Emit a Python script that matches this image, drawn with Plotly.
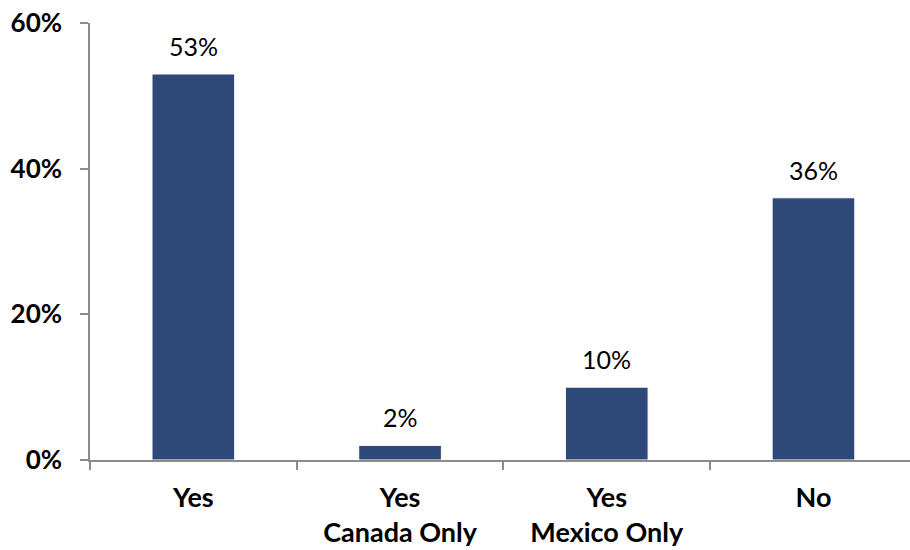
import plotly.graph_objects as go

categories = ["Yes", "Yes<br>Canada Only", "Yes<br>Mexico Only", "No"]
values = [53, 2, 10, 36]
labels = ["53%", "2%", "10%", "36%"]
y_ticks = [0, 20, 40, 60]
y_tick_labels = ["0%", "20%", "40%", "60%"]

BAR = "#2E4877"
AXIS = "#8C8C8C"
FONT = "Lato"

fig = go.Figure()
fig.add_trace(go.Bar(
    x=categories, y=values,
    marker=dict(color=BAR, line=dict(color="#FFFFFF", width=1)),
    width=0.4,
    hoverinfo="skip",
))

for c, v, t in zip(categories, values, labels):
    fig.add_annotation(
        x=c, y=v, text=t, showarrow=False,
        yanchor="bottom", yshift=11,
        font=dict(family=FONT, size=25, color="#000000"),
    )

fig.update_layout(
    width=910, height=550,
    margin=dict(l=90, r=0, t=23, b=90),
    paper_bgcolor="white", plot_bgcolor="white",
    showlegend=False,
    font=dict(family=FONT, color="#000000"),
)
fig.update_xaxes(
    range=[-0.5, 3.467],
    showline=True, linecolor=AXIS, linewidth=1.5,
    ticks="outside", tickson="boundaries", ticklen=8, tickcolor=AXIS, tickwidth=1.5,
    tickfont=dict(family=FONT, size=27, color="#000000", weight="bold"),
    showgrid=False, zeroline=False,
    ticklabelstandoff=13,
)
fig.update_yaxes(
    range=[0, 60],
    tickvals=y_ticks, ticktext=y_tick_labels,
    showline=True, linecolor=AXIS, linewidth=1.5,
    ticks="outside", ticklen=8, tickcolor=AXIS, tickwidth=1.5,
    tickfont=dict(family=FONT, size=26, color="#000000", weight="bold"),
    showgrid=False, zeroline=False,
    ticklabelstandoff=13,
)

fig.write_html("out.html")
